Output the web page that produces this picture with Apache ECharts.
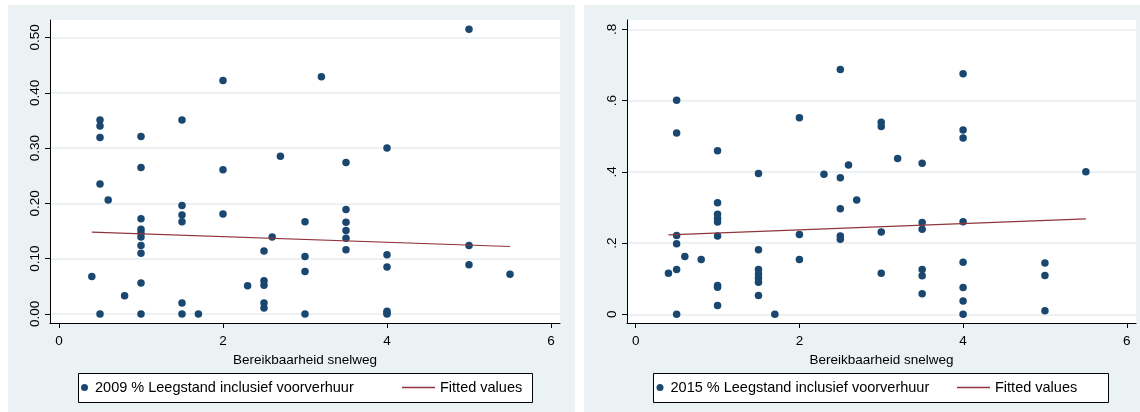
<!DOCTYPE html>
<html>
<head>
<meta charset="utf-8">
<script src="https://cdn.jsdelivr.net/npm/echarts@6/dist/echarts.min.js"></script>
<style>
html,body{margin:0;padding:0;background:#fff;}
#wrap{position:relative;width:1140px;height:412px;}
.panel{position:absolute;background:#eaf2f3;}
#chart{position:absolute;left:0;top:0;width:1140px;height:412px;}
</style>
</head>
<body>
<div id="wrap">
  <div class="panel" style="left:8px;top:5px;width:567px;height:407px;"></div>
  <div class="panel" style="left:584px;top:5px;width:556px;height:407px;"></div>
  <div id="chart"></div>
</div>
<script>
// ---- data ----
const access2009 = [0.4, 0.5,0.5,0.5,0.5,0.5, 0.6, 0.8,
  1,1,1,1,1,1,1,1,1,1, 1.5,1.5,1.5,1.5,1.5,1.5, 1.7, 2,2,2, 2.3,
  2.5,2.5,2.5,2.5,2.5, 2.6, 2.7, 3,3,3,3, 3.2, 3.5,3.5,3.5,3.5,3.5,3.5,
  4,4,4,4,4,4, 5,5,5, 5.5];
const vacancy2009 = [0.068, 0.351,0.340,0.319,0.235,0.000, 0.206, 0.033,
  0.321,0.265,0.172,0.153,0.147,0.139,0.124,0.110,0.056,0.000,
  0.351,0.196,0.179,0.167,0.020,0.000, 0.000, 0.422,0.261,0.181, 0.051,
  0.114,0.060,0.052,0.020,0.011, 0.139, 0.285, 0.167,0.104,0.077,0.000, 0.429,
  0.274,0.189,0.166,0.151,0.137,0.116,
  0.300,0.107,0.085,0.005,0.002,0.000, 0.515,0.124,0.089, 0.072];
const fitX2009 = [0.4, 5.5];
const fitY2009 = [0.148, 0.122];

const access2015 = [0.4, 0.5,0.5,0.5,0.5,0.5,0.5, 0.6, 0.8,
  1,1,1,1,1,1,1,1,1, 1.5,1.5,1.5,1.5,1.5,1.5,1.5, 1.7, 2,2,2, 2.3,
  2.5,2.5,2.5,2.5,2.5, 2.6, 2.7, 3,3,3,3, 3.2, 3.5,3.5,3.5,3.5,3.5,3.5,
  4,4,4,4,4,4,4,4, 5,5,5, 5.5];
const vacancy2015 = [0.115, 0.601,0.509,0.221,0.198,0.126,0.000, 0.162, 0.154,
  0.459,0.313,0.281,0.269,0.259,0.220,0.081,0.076,0.025,
  0.395,0.181,0.126,0.113,0.101,0.090,0.053, 0.000, 0.552,0.224,0.154, 0.393,
  0.687,0.383,0.296,0.220,0.211, 0.419, 0.321, 0.539,0.527,0.231,0.115, 0.437,
  0.424,0.258,0.239,0.126,0.108,0.058,
  0.675,0.517,0.495,0.260,0.146,0.075,0.037,0.000, 0.144,0.109,0.010, 0.400];
const fitX2015 = [0.4, 5.5];
const fitY2015 = [0.223, 0.268];

const xTicks = [0, 2, 4, 6];
const yTicks2009 = [0, 0.1, 0.2, 0.3, 0.4, 0.5];
const yTickLabels2009 = ['0.00','0.10','0.20','0.30','0.40','0.50'];
const yTicks2015 = [0, 0.2, 0.4, 0.6, 0.8];
const yTickLabels2015 = ['0', '.2', '.4', '.6', '.8'];

const xTitle = 'Bereikbaarheid snelweg';
const name2009 = '2009 % Leegstand inclusief voorverhuur';
const name2015 = '2015 % Leegstand inclusief voorverhuur';
const fitName = 'Fitted values';

// ---- styling ----
const FONT = '"Liberation Sans", Arial, sans-serif';
const NAVY = '#1a476f';
const MAROON = '#90353b';
const GRIDC = '#e6eef0';

function zip(a, b) { return a.map((v, i) => [v, b[i]]); }
function labelFor(ticks, labels) {
  return function (v) {
    for (let i = 0; i < ticks.length; i++) if (Math.abs(ticks[i] - v) < 1e-9) return labels[i];
    return '';
  };
}

function xAxisDef(gi, min, max) {
  return {
    gridIndex: gi, type: 'value', min: min, max: max,
    name: xTitle, nameLocation: 'middle', nameGap: 23,
    nameTextStyle: { fontFamily: FONT, fontSize: 13.5, color: '#000' },
    axisLine: { show: true, onZero: false, lineStyle: { color: '#000', width: 1 } },
    axisTick: { show: true, length: 5, customValues: xTicks, lineStyle: { color: '#000' } },
    axisLabel: { customValues: xTicks, margin: 11, fontFamily: FONT, fontSize: 13.5, color: '#000' },
    splitLine: { show: false }
  };
}
function yAxisDef(gi, min, max, ticks, labels) {
  return {
    gridIndex: gi, type: 'value', min: min, max: max,
    axisLine: { show: true, onZero: false, lineStyle: { color: '#000', width: 1 } },
    axisTick: { show: true, length: 5, customValues: ticks, lineStyle: { color: '#000' } },
    axisLabel: { customValues: ticks, rotate: 90, margin: 8, fontFamily: FONT, fontSize: 13.5, color: '#000',
      formatter: labelFor(ticks, labels) },
    splitLine: { show: true, lineStyle: { color: GRIDC, width: 1.5 } }
  };
}
function legendDef(name, icon, left, w, h) {
  return { data: [{ name: name, icon: icon }], left: left, top: 380, itemWidth: w, itemHeight: h,
    padding: 0, selectedMode: false,
    textStyle: { fontFamily: FONT, fontSize: 14.5, color: '#000' } };
}

const chart = echarts.init(document.getElementById('chart'), null, { renderer: 'canvas' });
chart.setOption({
  backgroundColor: 'transparent',
  animation: false,
  grid: [
    { left: 50, top: 20, width: 510, height: 303, show: true, backgroundColor: '#fff', borderWidth: 0 },
    { left: 627, top: 20, width: 509, height: 303, show: true, backgroundColor: '#fff', borderWidth: 0 }
  ],
  xAxis: [ xAxisDef(0, -0.1098, 6.1098), xAxisDef(1, -0.1063, 6.1125) ],
  yAxis: [ yAxisDef(0, -0.0163, 0.5316, yTicks2009, yTickLabels2009),
           yAxisDef(1, -0.0244, 0.826, yTicks2015, yTickLabels2015) ],
  graphic: [
    { type: 'rect', z: 1, shape: { x: 78.5, y: 373.5, width: 454, height: 29 },
      style: { fill: '#fff', stroke: '#000', lineWidth: 1 } },
    { type: 'rect', z: 1, shape: { x: 653.5, y: 373.5, width: 455, height: 29 },
      style: { fill: '#fff', stroke: '#000', lineWidth: 1 } }
  ],
  legend: [
    legendDef(name2009, 'circle', 81, 11, 7),
    legendDef(fitName, 'rect', 402, 33, 1.3),
    legendDef(name2015, 'circle', 656.5, 11, 7),
    legendDef(fitName, 'rect', 957, 33, 1.3)
  ],
  series: [
    { name: name2009, type: 'scatter', xAxisIndex: 0, yAxisIndex: 0, symbol: 'circle', symbolSize: 7.5,
      itemStyle: { color: NAVY, opacity: 1 }, data: zip(access2009, vacancy2009), z: 3 },
    { name: fitName, type: 'line', xAxisIndex: 0, yAxisIndex: 0, symbol: 'none',
      lineStyle: { color: MAROON, width: 1.2 }, itemStyle: { color: MAROON },
      data: zip(fitX2009, fitY2009), z: 4 },
    { name: name2015, type: 'scatter', xAxisIndex: 1, yAxisIndex: 1, symbol: 'circle', symbolSize: 7.5,
      itemStyle: { color: NAVY, opacity: 1 }, data: zip(access2015, vacancy2015), z: 3 },
    { name: fitName, type: 'line', xAxisIndex: 1, yAxisIndex: 1, symbol: 'none',
      lineStyle: { color: MAROON, width: 1.2 }, itemStyle: { color: MAROON },
      data: zip(fitX2015, fitY2015), z: 4 }
  ]
});
</script>
</body>
</html>
